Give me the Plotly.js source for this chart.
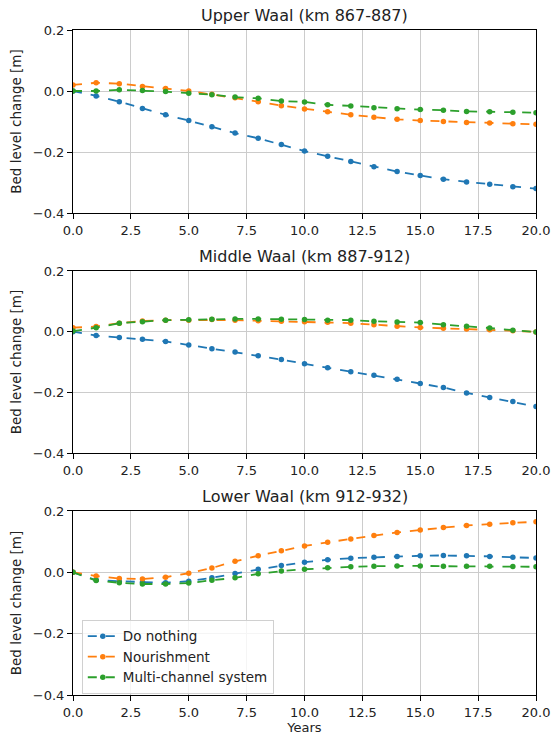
<!DOCTYPE html>
<html>
<head>
<meta charset="utf-8">
<script src="https://cdn.plot.ly/plotly-3.0.1.min.js"></script>
<style>html,body{margin:0;padding:0;background:#fff;}#chart{width:551px;height:737px;}</style>
</head>
<body>
<div id="chart"></div>
<script>
const years = [0,1,2,3,4,5,6,7,8,9,10,11,12,13,14,15,16,17,18,19,20];
const seriesNames = ["Do nothing", "Nourishment", "Multi-channel system"];
const panelTitles = ["Upper Waal (km 867-887)", "Middle Waal (km 887-912)", "Lower Waal (km 912-932)"];

const upperDoNothing = [0,-0.016,-0.035,-0.057,-0.078,-0.097,-0.117,-0.138,-0.155,-0.175,-0.197,-0.214,-0.231,-0.248,-0.264,-0.277,-0.289,-0.298,-0.306,-0.314,-0.320];
const upperNourishment = [0.020,0.027,0.024,0.015,0.008,0.000,-0.011,-0.022,-0.035,-0.048,-0.059,-0.068,-0.078,-0.086,-0.093,-0.097,-0.100,-0.103,-0.105,-0.107,-0.109];
const upperMultiChannel = [0,0.000,0.004,0.002,-0.002,-0.007,-0.012,-0.020,-0.024,-0.033,-0.036,-0.045,-0.049,-0.055,-0.058,-0.061,-0.063,-0.067,-0.068,-0.070,-0.071];

const middleDoNothing = [0,-0.013,-0.019,-0.025,-0.032,-0.044,-0.056,-0.067,-0.079,-0.092,-0.106,-0.119,-0.132,-0.144,-0.157,-0.171,-0.184,-0.202,-0.217,-0.230,-0.247];
const middleNourishment = [0.013,0.017,0.028,0.035,0.038,0.038,0.040,0.038,0.036,0.034,0.033,0.031,0.028,0.023,0.018,0.014,0.011,0.009,0.006,0.003,-0.001];
const middleMultiChannel = [0.002,0.013,0.028,0.033,0.038,0.039,0.041,0.042,0.042,0.041,0.040,0.038,0.038,0.034,0.032,0.030,0.023,0.018,0.012,0.005,-0.001];

const lowerDoNothing = [0,-0.025,-0.029,-0.032,-0.034,-0.029,-0.018,-0.004,0.010,0.022,0.033,0.041,0.046,0.049,0.052,0.054,0.055,0.054,0.052,0.049,0.047];
const lowerNourishment = [0,-0.012,-0.020,-0.022,-0.016,-0.003,0.014,0.036,0.054,0.070,0.086,0.098,0.109,0.120,0.130,0.138,0.146,0.153,0.157,0.162,0.165];
const lowerMultiChannel = [0,-0.027,-0.034,-0.038,-0.038,-0.035,-0.026,-0.018,-0.005,0.004,0.010,0.015,0.018,0.020,0.021,0.021,0.020,0.020,0.020,0.019,0.018];

const xTickVals = [0,2.5,5,7.5,10,12.5,15,17.5,20];
const yTickVals = [-0.4,-0.2,0,0.2];

const colors = ["#1f77b4", "#ff7f0e", "#2ca02c"];
const panels = [
  [upperDoNothing, upperNourishment, upperMultiChannel],
  [middleDoNothing, middleNourishment, middleMultiChannel],
  [lowerDoNothing, lowerNourishment, lowerMultiChannel]
];

const traces = [];
panels.forEach((p, i) => {
  p.forEach((vals, j) => {
    traces.push({
      x: years, y: vals, type: "scatter", mode: "lines+markers",
      name: seriesNames[j],
      showlegend: i === 2,
      xaxis: i === 0 ? "x" : "x" + (i + 1),
      yaxis: i === 0 ? "y" : "y" + (i + 1),
      line: {color: colors[j], width: 1.8, dash: "dash"},
      marker: {color: colors[j], size: 5.5}
    });
  });
});

const font = {family: "DejaVu Sans, sans-serif", size: 13, color: "#222"};
function xa(anchor) {
  return {
    anchor: anchor, domain: [0, 1], range: [0, 20], tickvals: xTickVals,
    tickformat: ".1f", showgrid: true, gridcolor: "#cccccc", gridwidth: 1,
    zeroline: false, showline: true, linecolor: "#000", linewidth: 1, mirror: true,
    ticks: "outside", ticklen: 5, tickcolor: "#000", tickfont: font,
    ticklabeloverflow: "allow"
  };
}
function ya(anchor, domain) {
  return {
    anchor: anchor, domain: domain, range: [-0.4, 0.2], tickvals: yTickVals,
    tickformat: ".1f", showgrid: true, gridcolor: "#cccccc", gridwidth: 1,
    zeroline: false, showline: true, linecolor: "#000", linewidth: 1, mirror: true,
    ticks: "outside", ticklen: 5, tickcolor: "#000", tickfont: font,
    ticklabeloverflow: "allow",
    title: {text: "Bed level change [m]", font: {family: "DejaVu Sans, sans-serif", size: 13.5, color: "#222"}, standoff: 8}
  };
}

const doms = [[0.7248, 1.0], [0.3639, 0.6376], [0, 0.2767]];
const layout = {
  width: 551, height: 737,
  margin: {l: 73, r: 15, t: 30, b: 42},
  paper_bgcolor: "#fff", plot_bgcolor: "#fff",
  font: font,
  xaxis: xa("y"), yaxis: ya("x", doms[0]),
  xaxis2: xa("y2"), yaxis2: ya("x2", doms[1]),
  xaxis3: Object.assign(xa("y3"), {title: {text: "Years", font: font, standoff: 2}}),
  yaxis3: ya("x3", doms[2]),
  legend: {
    x: 0.019, y: 0.113, xanchor: "left", yanchor: "top",
    bgcolor: "rgba(255,255,255,0.8)", bordercolor: "#d0d0d0", borderwidth: 1,
    font: {family: "DejaVu Sans, sans-serif", size: 13.5, color: "#222"},
    tracegroupgap: 0, itemwidth: 30
  },
  annotations: panelTitles.map((t, i) => ({
    text: t, xref: "paper", yref: "paper", x: 0.5, y: doms[i][1],
    xanchor: "center", yanchor: "bottom", yshift: 3, showarrow: false,
    font: {family: "DejaVu Sans, sans-serif", size: 16, color: "#222"}
  }))
};

Plotly.newPlot("chart", traces, layout, {displayModeBar: false, staticPlot: true});
</script>
</body>
</html>
